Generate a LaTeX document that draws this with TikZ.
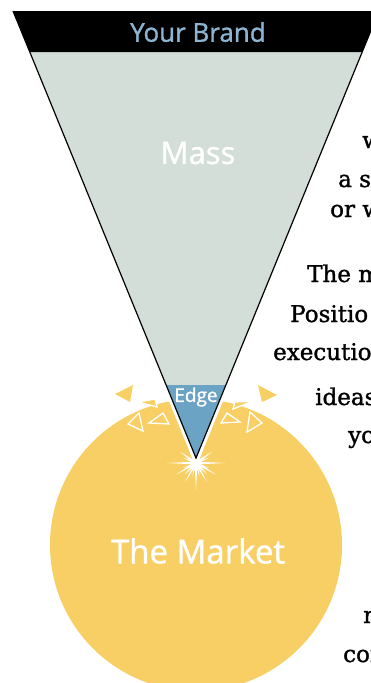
\documentclass[tikz,border=0pt]{standalone}
\usepackage{fontspec}
\setmainfont{DejaVu Serif}[FakeBold=1.3]
\newfontfamily\labelfont{Open Sans}[FakeBold=1.2]
\usetikzlibrary{calc}
\definecolor{c1}{HTML}{D4DED9}
\definecolor{c2}{HTML}{6BA3C4}
\definecolor{c3}{HTML}{F8CF65}
\definecolor{c4}{HTML}{8DB5D1}
\tikzset{
  sans_label/.style={text=white, inner sep=0pt},
  body_text/.style={anchor=base west, inner sep=0pt, font=\fontsize{23}{28}\selectfont},
  shard/.style={fill=c3},
  shard_open/.style={draw=white, line width=1.3pt},
  shard_edge/.style={fill=c3, draw=white, line width=1.3pt},
  side/.style={draw=black, line width=1.2pt},
  % side_glow/.style={draw=white, line width=7pt},
}

\begin{document}
\begin{tikzpicture}[x=1pt, y=-1pt]
	\useasboundingbox (0,0) rectangle (371,683);

	\coordinate (apex) at (196,458);
	\coordinate (bl) at (30,52);
	\coordinate (br) at (362,52);
	\coordinate (tl) at (13,11);
	\coordinate (tr) at (379,11);
	\coordinate (el) at (166,385);
	\coordinate (er) at (226,385);
	\coordinate (spark) at (196,463);

	\fill[c3] (196,545) circle[radius=146pt];

	\draw[white, line width=7pt] (tl) -- (apex) -- (tr);
	\fill[c1] (bl) -- (apex) -- (br) -- cycle;
	\fill[c2] (el) -- (apex) -- (er) -- cycle;
	\fill[black] (tl) -- (tr) -- (br) -- (bl) -- cycle;
	\draw[side] (tl) -- (apex) -- (tr);

	% spark at the tip
	\foreach \a/\r in {0/29, 22.5/14, 30/23, 45/16, 60/22, 75/14, 90/27, 105/14, 120/22, 135/16, 150/23, 157.5/14, 180/29, 202.5/14, 215/20, 240/13, 300/13, 325/20, 337.5/14}
		\fill[white] ($(spark)+(\a+90:1.4)$) -- ($(spark)+(\a:\r)$) -- ($(spark)+(\a-90:1.4)$) -- cycle;
	\fill[white] (spark) circle[radius=4pt];

	% shards
	\fill[shard] (115,394) -- (133,385) -- (130,402) -- cycle;
	\fill[shard] (277,395) -- (258,385) -- (262,402) -- cycle;
	\filldraw[shard_edge] (138,402) -- (155,399) -- (157,407) -- cycle;
	\filldraw[shard_edge] (253,401) -- (235,402) -- (233,409) -- cycle;
	\draw[shard_open] (128,424) -- (139,413) -- (143,431) -- cycle;
	\draw[shard_open] (149,423) -- (163,413) -- (169,424) -- cycle;
	\draw[shard_open] (221,423) -- (227,413) -- (240,422) -- cycle;
	\draw[shard_open] (247,432) -- (250,412) -- (262,423) -- cycle;

	\node[sans_label, text=c4, font=\labelfont\fontsize{26}{30}\selectfont] (brand) at (198,32) {Your Brand};
	\node[sans_label, font=\labelfont\fontsize{31}{36}\selectfont] (mass) at (198,153) {Mass};
	\node[sans_label, font=\labelfont\fontsize{19}{22}\selectfont] (edge) at (196,397) {Edge};
	\node[sans_label, font=\labelfont\fontsize{33}{38}\selectfont] (market) at (198,551) {The Market};

	\node[body_text] (t1) at (362,148) {w};
	\node[body_text] (t2) at (338,187) {a s};
	\node[body_text] (t3) at (330,217) {or w};
	\node[body_text] (t4) at (307,282) {The m};
	\node[body_text] (t5) at (290,322) {Positio};
	\node[body_text] (t6) at (273,360) {executio};
	\node[body_text] (t7) at (315,405) {ideas};
	\node[body_text] (t8) at (348,443) {yo};
	\node[body_text] (t9) at (363,623) {n};
	\node[body_text] (t10) at (343,662) {con};

\end{tikzpicture}
\end{document}
